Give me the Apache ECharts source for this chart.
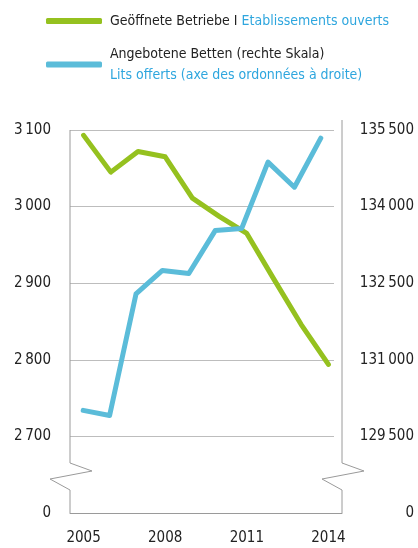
<!DOCTYPE html>
<html>
<head>
<meta charset="utf-8">
<script src="https://cdn.jsdelivr.net/npm/echarts@6/dist/echarts.min.js"></script>
<style>
  body { margin: 0; background: #fff; }
  #main { width: 418px; height: 548px; }
</style>
</head>
<body>
<div id="main"></div>
<script>
// Daten
var years = ['2005', '2006', '2007', '2008', '2009', '2010', '2011', '2012', '2013', '2014'];
var betriebe = [3093, 3045, 3072, 3065, 3011, 2987, 2965, 2905, 2846, 2794];
var betten = [130010, 129910, 132290, 132750, 132690, 133530, 133570, 134870, 134380, 135340];
var leftTicks = [2600, 3100, 100];     // min, max, interval (2600 = "0" nach Achsenbruch)
var rightTicks = [128000, 135500, 1500]; // min, max, interval (128000 = "0")

var nameBetriebe = 'Geöffnete Betriebe';
var nameBetten = 'Angebotene Betten';

var font = "'Liberation Sans Narrow', 'DejaVu Sans Condensed', sans-serif";
var green = '#95c11f';
var blue = '#5bbcd9';
var axisGrey = '#9a9a9a';

// Tausendertrennzeichen: schmales Leerzeichen
var fmt = function (v) {
  return String(v).replace(/\B(?=(\d{3})+(?!\d))/g, '\u2009');
};

var myChart = echarts.init(document.getElementById('main'));

var option = {
  animation: false,
  legend: {
    orient: 'vertical',
    left: 46,
    top: 14,
    padding: 0,
    itemWidth: 56,
    itemHeight: 6,
    itemGap: 19,
    icon: 'roundRect',
    data: [nameBetriebe, nameBetten],
    formatter: function (name) {
      if (name == nameBetriebe) {
        return '{a|Geöffnete Betriebe I }{b|Etablissements ouverts}';
      }
      return '{a|Angebotene Betten (rechte Skala)}\n{b|Lits offerts (axe des ordonnées à droite)}';
    },
    textStyle: {
      padding: [0, 0, 0, 3],
      rich: {
        a: { color: '#222', fontSize: 14, fontFamily: font, lineHeight: 21 },
        b: { color: '#2ea6de', fontSize: 14, fontFamily: font, lineHeight: 21 }
      }
    }
  },
  grid: [
    { left: 70, width: 272, top: 130, height: 383 },
    { left: 70, width: 264, top: 130, height: 383 }
  ],
  xAxis: [
    {
      type: 'category', gridIndex: 0, data: years, boundaryGap: true,
      axisLine: { lineStyle: { color: axisGrey, width: 1 } },
      axisTick: { show: false },
      axisLabel: { interval: 2, margin: 18, color: '#222', fontSize: 15, fontFamily: font }
    },
    {
      type: 'category', gridIndex: 1, data: years, boundaryGap: true, show: false
    }
  ],
  yAxis: [
    {
      type: 'value', gridIndex: 0, position: 'left',
      min: leftTicks[0], max: leftTicks[1], interval: leftTicks[2],
      axisLine: { show: false }, axisTick: { show: false }, splitLine: { show: false },
      axisLabel: {
        margin: 19, color: '#222', fontSize: 15, fontFamily: font,
        formatter: function (v) { return v == leftTicks[0] ? '0' : fmt(v); }
      }
    },
    {
      type: 'value', gridIndex: 0, position: 'right',
      min: rightTicks[0], max: rightTicks[1], interval: rightTicks[2],
      axisLine: { show: false }, axisTick: { show: false }, splitLine: { show: false },
      axisLabel: {
        margin: 72, align: 'right', color: '#222', fontSize: 15, fontFamily: font,
        formatter: function (v) { return v == rightTicks[0] ? '0' : fmt(v); }
      }
    },
    {
      type: 'value', gridIndex: 1, position: 'right',
      min: rightTicks[0], max: rightTicks[1], interval: rightTicks[2],
      axisLine: { show: false }, axisTick: { show: false }, axisLabel: { show: false },
      splitLine: { show: true, lineStyle: { color: '#bdbdbd', width: 1 } }
    }
  ],
  series: [
    {
      name: nameBetriebe, type: 'line', xAxisIndex: 0, yAxisIndex: 0,
      data: betriebe, symbol: 'none', color: green,
      lineStyle: { color: green, width: 5, cap: 'round', join: 'round' }
    },
    {
      name: nameBetten, type: 'line', xAxisIndex: 1, yAxisIndex: 2,
      data: betten, symbol: 'none', color: blue,
      lineStyle: { color: blue, width: 5, cap: 'round', join: 'round' }
    }
  ]
};

myChart.setOption(option);

// Achsenlinien mit Bruch-Zickzack
var p0 = myChart.convertToPixel({ xAxisIndex: 0, yAxisIndex: 0 }, [0, leftTicks[1]]);
var pTop = p0[1];
var pBottom = myChart.convertToPixel({ yAxisIndex: 0 }, leftTicks[0]);
var L = 70, R = 342;
var zig = function (x, y0) {
  return [[x, y0], [x, 463], [x + 22, 471], [x - 20, 479], [x, 490], [x, pBottom]];
};
myChart.setOption({
  graphic: [
    { type: 'polyline', z: 10, shape: { points: zig(L, pTop) }, style: { stroke: axisGrey, lineWidth: 1, fill: null } },
    { type: 'polyline', z: 10, shape: { points: zig(R, pTop - 10) }, style: { stroke: axisGrey, lineWidth: 1, fill: null } }
  ]
});
</script>
</body>
</html>
